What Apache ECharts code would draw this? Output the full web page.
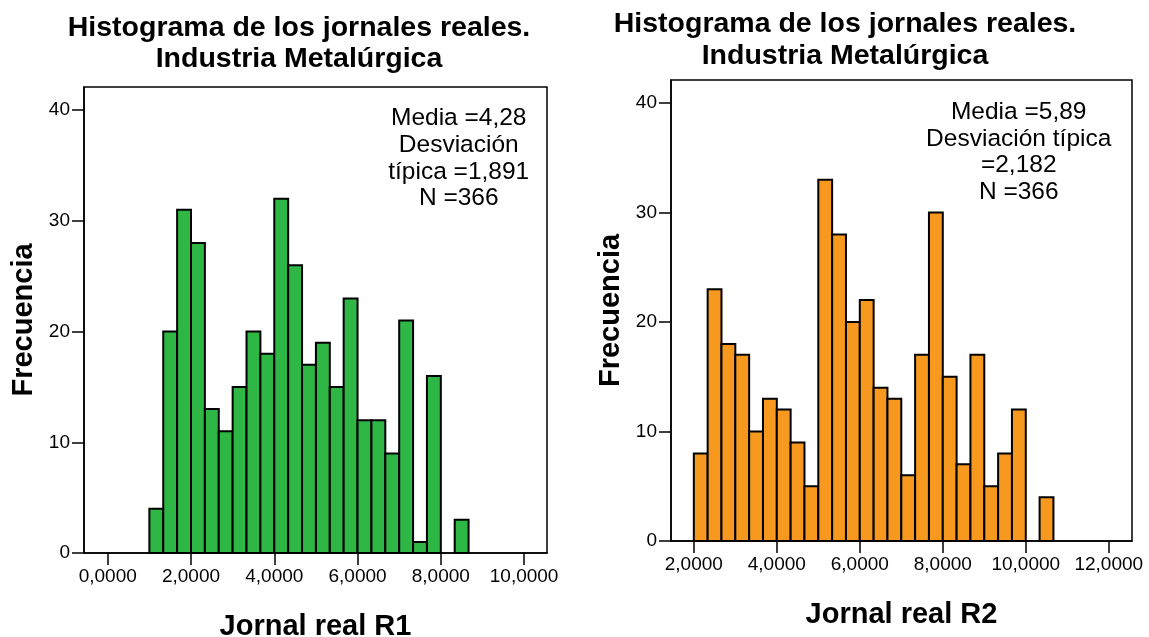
<!DOCTYPE html>
<html>
<head>
<meta charset="utf-8">
<script src="https://cdn.jsdelivr.net/npm/echarts@6/dist/echarts.min.js"></script>
<style>
  html, body { margin: 0; padding: 0; background: #fff; }
  #chart { width: 1149px; height: 637px; }
</style>
</head>
<body>
<div id="chart"></div>
<script>
// Shared texts
const titleLines = ['Histograma de los jornales reales.', 'Industria Metalúrgica'];
const yAxisName = 'Frecuencia';
const yTicks = [0, 10, 20, 30, 40];
const binWidth = 1 / 3;

// Jornal real R1
const r1Name = 'Jornal real R1';
const r1BinStart = 1.0;
const r1Counts = [4, 20, 31, 28, 13, 11, 15, 20, 18, 32, 26, 17, 19, 15, 23, 12, 12, 9, 21, 1, 16, 0, 3];
const r1XTicks = [0, 2, 4, 6, 8, 10];
const r1Stats = ['Media =4,28', 'Desviación', 'típica =1,891', 'N =366'];

// Jornal real R2
const r2Name = 'Jornal real R2';
const r2BinStart = 2.0;
const r2Counts = [8, 23, 18, 17, 10, 13, 12, 9, 5, 33, 28, 20, 22, 14, 13, 6, 17, 30, 15, 7, 17, 5, 8, 12, 0, 4];
const r2XTicks = [2, 4, 6, 8, 10, 12];
const r2Stats = ['Media =5,89', 'Desviación típica', '=2,182', 'N =366'];

const FONT = '"Liberation Sans", Arial, sans-serif';
const GREEN = '#2EB745';
const ORANGE = '#F7991F';

function bins(start, counts) {
  return counts.map((c, i) => [start + i * binWidth, start + (i + 1) * binWidth, c]);
}

function histRender(color) {
  return function (params, api) {
    const n = api.value(2);
    if (!n) return null;
    const p0 = api.coord([api.value(0), 0]);
    const p1 = api.coord([api.value(1), n]);
    return {
      type: 'rect',
      shape: { x: p0[0], y: p1[1], width: p1[0] - p0[0], height: p0[1] - p1[1] },
      style: { fill: color, stroke: '#000', lineWidth: 2 }
    };
  };
}

const commaFmt = v => v.toFixed(4).replace('.', ',');

function xAxisFor(gridIndex, min, max, ticks, name) {
  return {
    type: 'value', gridIndex, min, max,
    name, nameLocation: 'middle', nameGap: 59,
    nameTextStyle: { fontSize: 29, fontWeight: 'bold', color: '#000', fontFamily: FONT },
    axisLine: { onZero: false, lineStyle: { color: '#000', width: 1.5 } },
    axisTick: { customValues: ticks, length: 12, lineStyle: { color: '#000', width: 1.5 } },
    axisLabel: { customValues: ticks, formatter: commaFmt, fontSize: 19, color: '#000', margin: 14, fontFamily: FONT },
    splitLine: { show: false }
  };
}

function yAxisFor(gridIndex, nameGap) {
  return {
    type: 'value', gridIndex, min: 0, max: 42.1,
    name: yAxisName, nameLocation: 'middle', nameGap, nameRotate: 90,
    nameTextStyle: { fontSize: 29, fontWeight: 'bold', color: '#000', fontFamily: FONT },
    axisLine: { show: true, onZero: false, lineStyle: { color: '#000', width: 1.5 } },
    axisTick: { show: true, customValues: yTicks, length: 12, lineStyle: { color: '#000', width: 1.5 } },
    axisLabel: { customValues: yTicks, fontSize: 19, color: '#000', margin: 14, fontFamily: FONT },
    splitLine: { show: false }
  };
}

const gridBase = { show: true, borderColor: '#000', borderWidth: 1.5, backgroundColor: '#fff', containLabel: false, outerBoundsMode: 'none' };

const chart = echarts.init(document.getElementById('chart'), null, { renderer: 'canvas' });
chart.setOption({
  animation: false,
  backgroundColor: '#fff',
  title: [
    {
      text: titleLines.join('\n'), left: 299, top: 13, textAlign: 'center', padding: 0,
      textStyle: { fontSize: 28.5, fontWeight: 'bold', color: '#000', fontFamily: FONT, lineHeight: 31 }
    },
    {
      text: titleLines.join('\n'), left: 845, top: 8, textAlign: 'center', padding: 0,
      textStyle: { fontSize: 28.5, fontWeight: 'bold', color: '#000', fontFamily: FONT, lineHeight: 32 }
    }
  ],
  grid: [
    Object.assign({ left: 84, top: 87, right: 602, bottom: 84 }, gridBase),
    Object.assign({ left: 671, top: 80, right: 17, bottom: 96 }, gridBase)
  ],
  xAxis: [
    xAxisFor(0, -0.57, 10.55, r1XTicks, r1Name),
    xAxisFor(1, 1.45, 12.56, r2XTicks, r2Name)
  ],
  yAxis: [
    yAxisFor(0, 46),
    yAxisFor(1, 46)
  ],
  series: [
    {
      type: 'custom', xAxisIndex: 0, yAxisIndex: 0,
      data: bins(r1BinStart, r1Counts), encode: { x: [0, 1], y: 2 },
      renderItem: histRender(GREEN)
    },
    {
      type: 'custom', xAxisIndex: 1, yAxisIndex: 1,
      data: bins(r2BinStart, r2Counts), encode: { x: [0, 1], y: 2 },
      renderItem: histRender(ORANGE)
    }
  ]
});

// Summary statistics placed inside each plot through the axes' own coordinates
const s1 = chart.convertToPixel({ gridIndex: 0 }, [8.43, 0]);
const s2 = chart.convertToPixel({ gridIndex: 1 }, [9.83, 0]);
chart.setOption({
  graphic: [
    {
      type: 'text', x: s1[0], y: 105,
      style: { text: r1Stats.join('\n'), align: 'center', font: '24.5px ' + FONT, fill: '#000', lineHeight: 26.7 }
    },
    {
      type: 'text', x: s2[0], y: 99,
      style: { text: r2Stats.join('\n'), align: 'center', font: '24.5px ' + FONT, fill: '#000', lineHeight: 26.5 }
    }
  ]
});
</script>
</body>
</html>
